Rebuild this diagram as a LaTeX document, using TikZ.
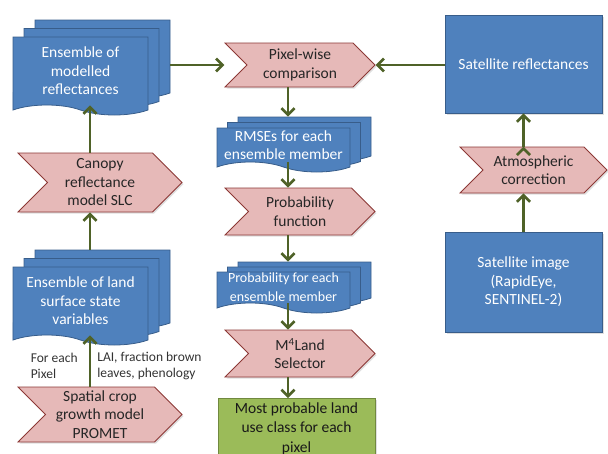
\documentclass[tikz,border=0pt]{standalone}
\usepackage{fontspec}
\setmainfont{Carlito}
\usepackage{tikz}
\usetikzlibrary{positioning, shapes.symbols, shadows, arrows.meta}

\definecolor{docblue}{HTML}{4F81BD}
\definecolor{docedge}{HTML}{385D8A}
\definecolor{procpink}{HTML}{E6B9B8}
\definecolor{procedge}{HTML}{8C3836}
\definecolor{resgreen}{HTML}{9BBB59}
\definecolor{resedge}{HTML}{71893F}
\definecolor{flowgreen}{HTML}{4F6228}

\tikzset{
	mainfont/.style={font=\fontsize{15.5}{18.5}\selectfont},
	softshadow/.style={drop shadow={shadow xshift=1.5pt, shadow yshift=-1.5pt, opacity=.25}},
	process/.style={signal, signal to=east, signal from=west, mainfont, align=center,
		fill=procpink, draw=procedge, thick, text=black!85, inner sep=0pt,
		minimum width=150pt, minimum height=47pt, softshadow},
	box/.style={rectangle, mainfont, align=center, fill=docblue, draw=docedge, thick,
		text=white, minimum width=157pt, minimum height=98pt, softshadow},
	result/.style={rectangle, font=\fontsize{15.5}{19.5}\selectfont, align=center,
		fill=resgreen, draw=resedge, thick, text=black!90, minimum width=157pt,
		minimum height=60pt, softshadow},
	stack/.style 2 args={tape, tape bend top=none, tape bend bottom=out and in,
		tape bend height=10pt, mainfont, align=center, inner sep=0pt,
		fill=docblue, draw=docedge, thick, text=white,
		copy shadow={shadow xshift=2*#1, shadow yshift=2*#2, fill=docblue, draw=docedge, thick},
		copy shadow={shadow xshift=#1, shadow yshift=#2, fill=docblue, draw=docedge, thick}},
	flow/.style={draw=flowgreen, line width=2.7pt, -{Straight Barb[length=6.5pt,width=13pt]}},
	note/.style={font=\fontsize{13.5}{16}\selectfont, align=left, text=black!80, inner sep=0pt}
}

\begin{document}
\begin{tikzpicture}[node distance=100pt, on grid]
	\path[use as bounding box, clip] (0,0) rectangle (608pt,-453pt);

	% left column
	\node[stack={11pt}{8.5pt}, minimum width=135pt, minimum height=78pt] (modref) at (80.5pt,-71pt) {Ensemble of\\modelled\\reflectances};
	\node[process, minimum width=164pt, minimum height=59pt, below right=111.5pt and 19.5pt of modref] (canopy) {Canopy\\reflectance\\model SLC};
	\node[stack={11pt}{8.5pt}, minimum width=135pt, minimum height=78pt, below left=118.5pt and 19.5pt of canopy] (landvar) {Ensemble of land\\surface state\\variables};
	\node[process, minimum width=164pt, minimum height=55pt, below right=113.5pt and 19.5pt of landvar] (promet) {Spatial crop\\growth model\\PROMET};

	% middle column
	\node[process, minimum height=44pt] (pixcomp) at (300pt,-65pt) {Pixel-wise\\comparison};
	\node[stack={10.5pt}{5.5pt}, minimum width=133pt, minimum height=44pt, below left=80pt and 16.5pt of pixcomp] (rmse) {RMSEs for each\\ensemble member};
	\node[process, below right=66.5pt and 16.5pt of rmse] (probfun) {Probability\\function};
	\node[stack={10.5pt}{5pt}, minimum width=133pt, minimum height=41pt, font=\fontsize{14}{19}\selectfont, below left=76pt and 16.5pt of probfun] (probmem) {Probability for each\\ensemble member};
	\node[process, below right=66pt and 16.5pt of probmem] (m4land) {M\textsuperscript{4}Land\\Selector};
	\node[result, below left=75pt and 3.5pt of m4land] (landuse) {Most probable land\\use class for each\\pixel};

	% right column
	\node[box] (satrefl) at (523.5pt,-64pt) {Satellite reflectances};
	\node[process, minimum width=147pt, minimum height=46pt, below right=106pt and 10pt of satrefl] (atmos) {Atmospheric\\correction};
	\node[box, minimum height=100pt, below left=112pt and 10pt of atmos] (satimg) {Satellite image\\(RapidEye,\\SENTINEL-2)};

	\path[flow]
	([xshift=9.5pt]modref.south |- canopy.north) edge ([xshift=9.5pt]modref.south)
	([shift={(9.5pt,17pt)}]landvar.north) edge ([xshift=9.5pt]modref.south |- canopy.south)
	([xshift=9.5pt]landvar.south |- promet.north) edge
		node[pos=0.4, left=11pt, note] {For each\\Pixel}
		node[pos=0.4, right=6pt, note] {LAI, fraction brown\\leaves, phenology}
		([xshift=9.5pt]landvar.south)
	([xshift=22pt]modref.east |- pixcomp.west) edge ([xshift=-22pt]pixcomp.west)
	(satrefl.west |- pixcomp.east) edge (pixcomp.east)
	([xshift=4.5pt]rmse.north |- pixcomp.south) edge ([shift={(4.5pt,11pt)}]rmse.north)
	([xshift=4.5pt]rmse.south) edge ([xshift=4.5pt]rmse.south |- probfun.north)
	([xshift=4.5pt]probmem.north |- probfun.south) edge ([shift={(4.5pt,10pt)}]probmem.north)
	([xshift=4.5pt]probmem.south) edge ([xshift=4.5pt]probmem.south |- m4land.north)
	([xshift=4.5pt]probmem.south |- m4land.south) edge ([xshift=4.5pt]probmem.south |- landuse.north)
	(satimg.north) edge (satimg.north |- atmos.south)
	(satrefl.south |- atmos.north) edge (satrefl.south);
\end{tikzpicture}
\end{document}
